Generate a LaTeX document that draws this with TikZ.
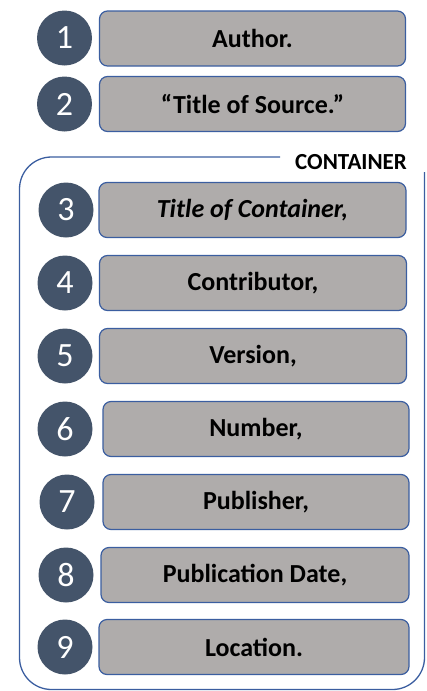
\documentclass[tikz,border=0pt]{standalone}
\usepackage{fontspec}
\setmainfont{Carlito}
\definecolor{boxfill}{RGB}{175,172,171}
\definecolor{boxline}{RGB}{59,94,160}
\definecolor{circfill}{RGB}{68,84,106}
\tikzset{
  entry/.style={draw=boxline, line width=1.2pt, fill=boxfill, rounded corners=8pt, minimum height=55pt, text=black, font=\bfseries\fontsize{26}{28}\selectfont},
  num/.style={circle, fill=circfill, minimum size=55pt, inner sep=0pt, text=white, font=\fontsize{34}{36}\selectfont},
  frame/.style={draw=boxline, line width=1.3pt, rounded corners=32pt},
}
\begin{document}
\begin{tikzpicture}[x=1pt,y=-1pt]
\useasboundingbox (0,0) rectangle (427,691);
\node[entry, minimum width=306pt] (b1) at (252.5,38.5) {Author.};
\node[entry, minimum width=306pt] (b2) at (252.5,104) {“Title of Source.”};
\node[entry, minimum width=307pt] (b3) at (252.5,210) {\itshape Title of Container,};
\node[entry, minimum width=307pt] (b4) at (253,283) {Contributor,};
\node[entry, minimum width=307pt] (b5) at (253,356) {Version,};
\node[entry, minimum width=306pt] (b6) at (256,429) {Number,};
\node[entry, minimum width=306pt] (b7) at (256,502) {Publisher,};
\node[entry, minimum width=308pt] (b8) at (255,575) {Publication Date,};
\node[entry, minimum width=310pt] (b9) at (254,647) {Location.};
\node[num] (n1) at (64.5,38) {1};
\node[num] (n2) at (64.5,104) {2};
\node[num] (n3) at (66,210) {3};
\node[num] (n4) at (65,283) {4};
\node[num] (n5) at (65,356) {5};
\node[num] (n6) at (65,429) {6};
\node[num] (n7) at (67,502) {7};
\node[num] (n8) at (66,575) {8};
\node[num] (n9) at (65,647) {9};
\node[font=\bfseries\fontsize{23}{25}\selectfont, anchor=west, inner sep=0pt] (ct) at (295,162) {CONTAINER};
\coordinate (fa) at (280,157);
\coordinate (fb) at (424.5,172);
\draw[frame] (fa) -- (19.5,157) -- (19.5,689.5) -- (424.5,689.5) -- (fb);
\end{tikzpicture}
\end{document}
